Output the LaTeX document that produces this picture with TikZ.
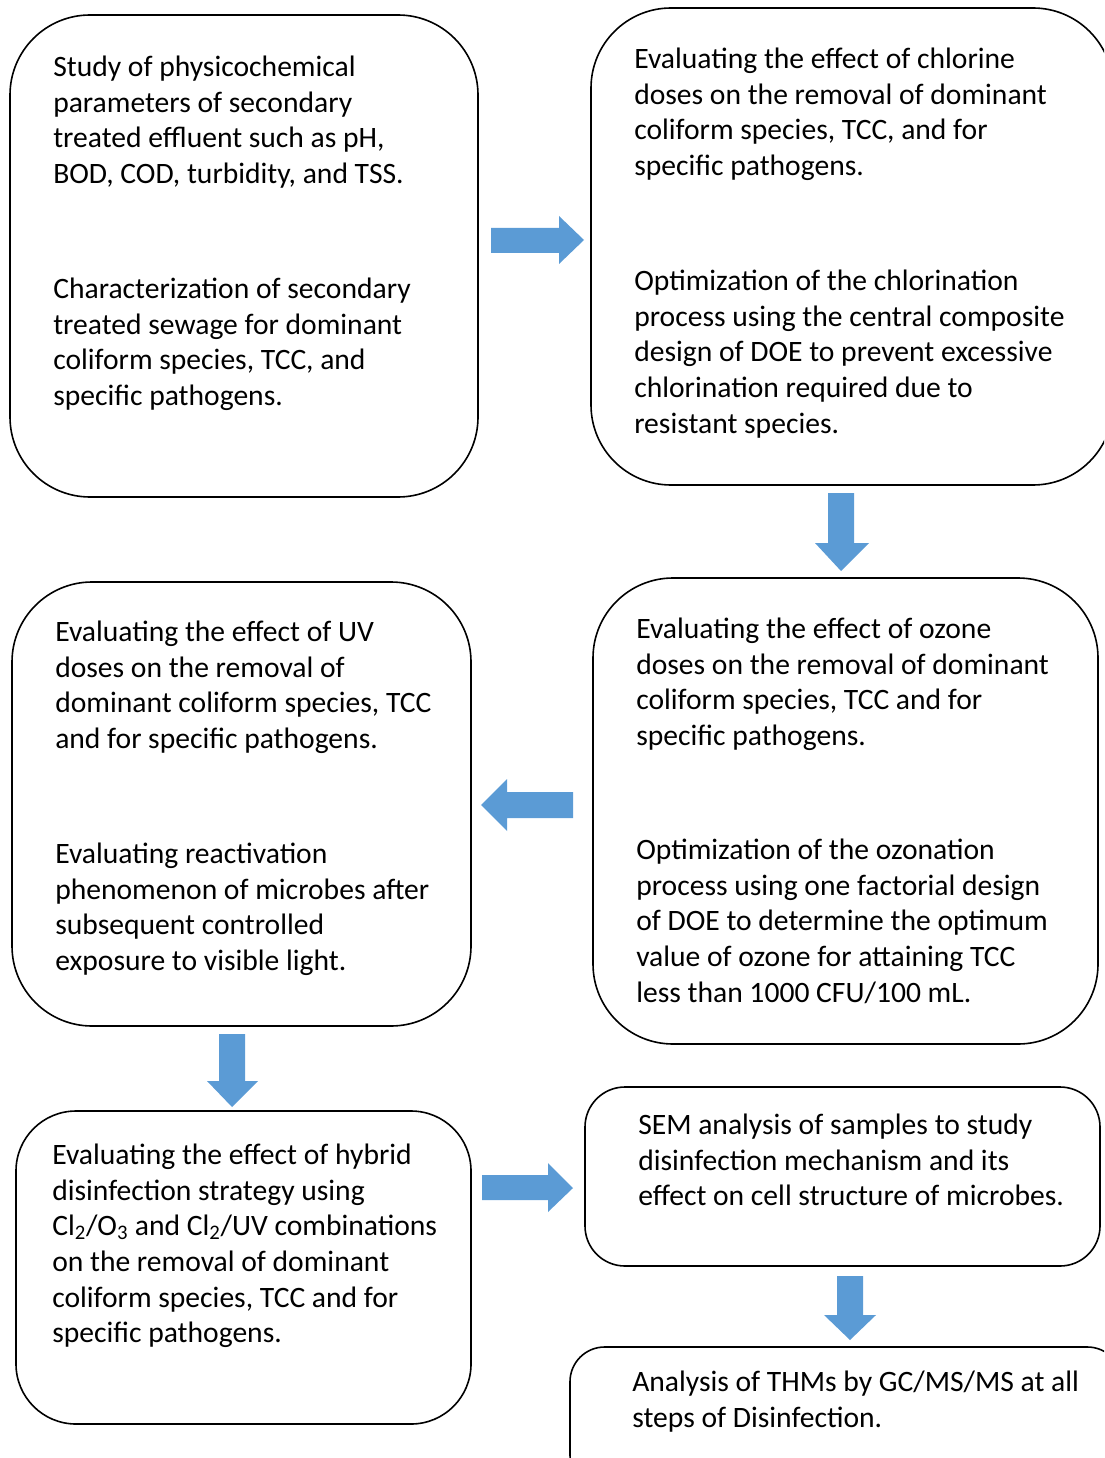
\documentclass[tikz,border=0pt]{standalone}
\usepackage{fontspec}
\setmainfont{Carlito}
\definecolor{flowblue}{HTML}{5B9BD5}
\tikzset{
  stagebox/.style={draw=black, line width=1.2pt, rectangle, inner sep=0pt, fill=white},
  stagetext/.style={anchor=north west, inner sep=0pt, align=left,
    font=\fontsize{22.2pt}{26.8pt}\selectfont},
  blockarrow/.style={fill=flowblue, draw=none}
}
\begin{document}
\begin{tikzpicture}[x=0.75pt, y=-0.75pt]
\useasboundingbox (0,0) rectangle (1104,1458);
\clip (0,0) rectangle (1104,1458);

% Stage boxes
\node[stagebox, rounded corners=60pt, minimum width=351pt, minimum height=361.5pt] (b1) at (244,256) {};
\node[stagebox, rounded corners=60pt, minimum width=391.5pt, minimum height=357.75pt] (b2) at (852,246.5) {};
\node[stagebox, rounded corners=60pt, minimum width=378.75pt, minimum height=349.5pt] (b3) at (845.5,811) {};
\node[stagebox, rounded corners=60pt, minimum width=344.25pt, minimum height=333pt] (b4) at (241.5,804) {};
\node[stagebox, rounded corners=45pt, minimum width=341.25pt, minimum height=234.75pt] (b5) at (243.5,1267.5) {};
\node[stagebox, rounded corners=30pt, minimum width=386.25pt, minimum height=134.25pt] (b6) at (842.5,1176.5) {};
\node[stagebox, rounded corners=26pt, minimum width=414pt, minimum height=107.25pt] (b7) at (846,1418.5) {};

% Box texts
\node[stagetext] (t1a) at (53,51) {\strut Study of physicochemical\\parameters of secondary\\treated effluent such as pH,\\BOD, COD, turbidity, and TSS.};
\node[stagetext] (t1b) at (53,273) {\strut Characterization of secondary\\treated sewage for dominant\\coliform species, TCC, and\\specific pathogens.};

\node[stagetext] (t2a) at (634,43) {\strut Evaluating the effect of chlorine\\doses on the removal of dominant\\coliform species, TCC, and for\\specific pathogens.};
\node[stagetext] (t2b) at (634,265) {\strut Optimization of the chlorination\\process using the central composite\\design of DOE to prevent excessive\\chlorination required due to\\resistant species.};

\node[stagetext] (t3a) at (636,613) {\strut Evaluating the effect of ozone\\doses on the removal of dominant\\coliform species, TCC and for\\specific pathogens.};
\node[stagetext] (t3b) at (636,834) {\strut Optimization of the ozonation\\process using one factorial design\\of DOE to determine the optimum\\value of ozone for attaining TCC\\less than 1000 CFU/100 mL.};

\node[stagetext] (t4a) at (55,616) {\strut Evaluating the effect of UV\\doses on the removal of\\dominant coliform species, TCC\\and for specific pathogens.};
\node[stagetext] (t4b) at (55,838) {\strut Evaluating reactivation\\phenomenon of microbes after\\subsequent controlled\\exposure to visible light.};

\node[stagetext] (t5) at (52,1139) {\strut Evaluating the effect of hybrid\\disinfection strategy using\\Cl\textsubscript{2}/O\textsubscript{3} and Cl\textsubscript{2}/UV combinations\\on the removal of dominant\\coliform species, TCC and for\\specific pathogens.};

\node[stagetext] (t6) at (638,1109) {\strut SEM analysis of samples to study\\disinfection mechanism and its\\effect on cell structure of microbes.};

\node[stagetext] (t7) at (632,1366) {\strut Analysis of THMs by GC/MS/MS at all\\steps of Disinfection.};

% Block arrows between stages
\fill[blockarrow] (491,228) -- (559,228) -- (559,216) -- (584,240) -- (559,264) -- (559,253) -- (491,253) -- cycle;
\fill[blockarrow] (828,493) -- (854,493) -- (854,543) -- (869,543) -- (841,571) -- (815,543) -- (828,543) -- cycle;
\fill[blockarrow] (573,792) -- (507,792) -- (507,779) -- (481,805) -- (507,831) -- (507,818) -- (573,818) -- cycle;
\fill[blockarrow] (219,1034) -- (245,1034) -- (245,1081) -- (258,1081) -- (232,1107) -- (207,1081) -- (219,1081) -- cycle;
\fill[blockarrow] (482,1175) -- (548,1175) -- (548,1163) -- (573,1188) -- (548,1212) -- (548,1200) -- (482,1200) -- cycle;
\fill[blockarrow] (837,1276) -- (863,1276) -- (863,1315) -- (876,1315) -- (850,1340) -- (824,1315) -- (837,1315) -- cycle;
\end{tikzpicture}
\end{document}
